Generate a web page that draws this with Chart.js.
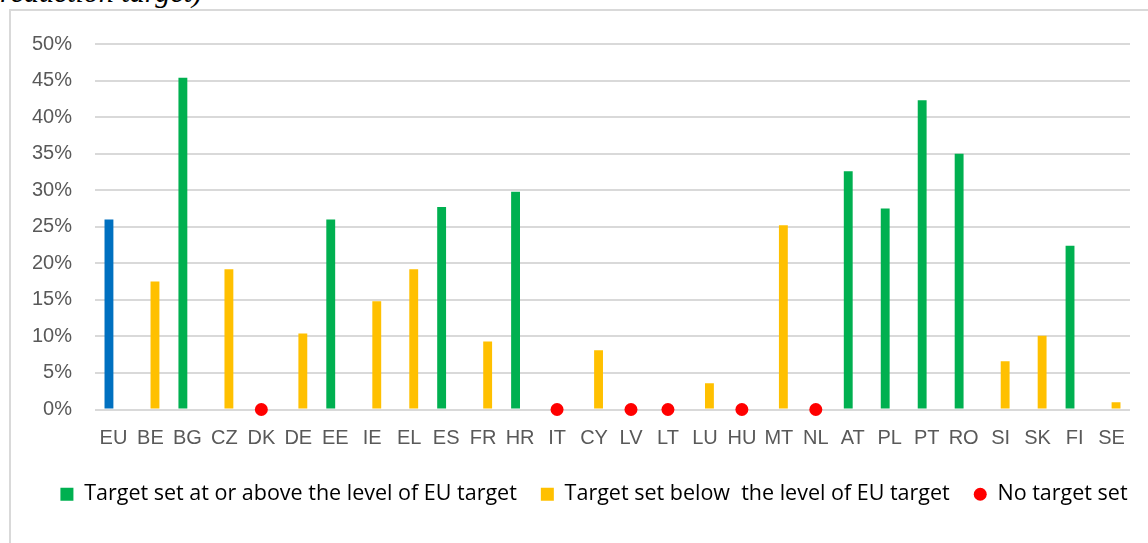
<!DOCTYPE html>
<html>
<head>
<meta charset="utf-8">
<script src="https://cdn.jsdelivr.net/npm/chart.js@4.4.1/dist/chart.umd.min.js"></script>
<style>
  body { margin: 0; background: #fff; }
  #wrap { position: relative; width: 1148px; height: 543px; overflow: hidden; }
  #frame { position: absolute; left: 9px; top: 9px; width: 1300px; height: 700px; border: 2px solid #d9d9d9; }
  #note { position: absolute; left: 0; top: -23px; font: italic 30px "Liberation Serif", serif; color: #000; line-height: 30px; white-space: nowrap; }
  #chartBox { position: absolute; left: 0; top: 0; width: 1148px; height: 543px; }
</style>
</head>
<body>
<div id="wrap">
  <div id="frame"></div>
  <div id="note">reduction target)</div>
  <div id="chartBox"><canvas id="targetChart"></canvas></div>
</div>
<script>
// countries on the x axis
const countries = ['EU', 'BE', 'BG', 'CZ', 'DK', 'DE', 'EE', 'IE', 'EL', 'ES', 'FR', 'HR', 'IT', 'CY',
  'LV', 'LT', 'LU', 'HU', 'MT', 'NL', 'AT', 'PL', 'PT', 'RO', 'SI', 'SK', 'FI', 'SE'];

// target at or above the EU level (EU itself drawn in blue)
const aboveTarget = [26.0, null, 45.4, null, null, null, 26.0, null, null, 27.7, null, 29.8, null, null,
  null, null, null, null, null, null, 32.6, 27.5, 42.3, 35.0, null, null, 22.4, null];

// target below the EU level
const belowTarget = [null, 17.5, null, 19.2, null, 10.4, null, 14.8, 19.2, null, 9.3, null, null, 8.1,
  null, null, 3.6, null, 25.2, null, null, null, null, null, 6.6, 10.1, null, 1.0];

// no target set (dot on the zero line)
const noTarget = [null, null, null, null, 0, null, null, null, null, null, null, null, 0, null,
  0, 0, null, 0, null, 0, null, null, null, null, null, null, null, null];

const legendNames = ['Target set at or above the level of EU target',
  'Target set below  the level of EU target', 'No target set'];

const yTicks = [0, 5, 10, 15, 20, 25, 30, 35, 40, 45, 50];

const green = '#00B050';
const yellow = '#FFC000';
const blue = '#0070C0';
const red = '#FF0000';
const textGrey = '#595959';

// the legend sits a bit right of centre in the original
const legendShift = {
  id: 'legendShift',
  afterLayout(chart) {
    chart.legend.left += 29;
    chart.legend.right += 29;
  }
};

const ctx = document.getElementById('targetChart');
new Chart(ctx, {
  type: 'bar',
  data: {
    labels: countries,
    datasets: [
      {
        label: legendNames[0],
        data: aboveTarget,
        backgroundColor: countries.map(c => c === 'EU' ? blue : green),
        categoryPercentage: 0.49,
        barPercentage: 0.98,
        order: 2
      },
      {
        label: legendNames[1],
        data: belowTarget,
        backgroundColor: yellow,
        categoryPercentage: 0.49,
        barPercentage: 0.98,
        order: 2
      },
      {
        type: 'line',
        label: legendNames[2],
        data: noTarget,
        showLine: false,
        pointRadius: 6.5,
        pointHoverRadius: 6.5,
        pointBackgroundColor: red,
        pointBorderWidth: 0,
        borderColor: red,
        clip: false,
        order: 1
      }
    ]
  },
  plugins: [legendShift],
  options: {
    responsive: true,
    maintainAspectRatio: false,
    animation: false,
    layout: { padding: { left: 0, right: 18, top: 44, bottom: 28 } },
    scales: {
      x: {
        grid: { display: false },
        border: { display: false },
        ticks: {
          color: textGrey,
          font: { family: 'Liberation Sans', size: 20 },
          autoSkip: false,
          maxRotation: 0,
          padding: 9
        },
        afterFit(scale) { scale.height = 50; }
      },
      y: {
        min: 0,
        max: 50,
        afterBuildTicks(scale) { scale.ticks = yTicks.map(v => ({ value: v })); },
        grid: { color: '#d9d9d9', lineWidth: 2, drawTicks: false },
        border: { display: false },
        ticks: {
          color: textGrey,
          font: { family: 'Liberation Sans', size: 20 },
          padding: 23,
          callback: v => v + '%'
        },
        afterFit(scale) { scale.width = 95; }
      }
    },
    plugins: {
      tooltip: { enabled: false },
      legend: {
        position: 'bottom',
        labels: {
          color: textGrey,
          font: { family: 'Open Sans', size: 21.5 },
          boxWidth: 13,
          boxHeight: 13,
          padding: 24,
          useBorderRadius: true,
          generateLabels() {
            return [
              { text: legendNames[0], fillStyle: green, strokeStyle: green, lineWidth: 0, borderRadius: 0, datasetIndex: 0 },
              { text: legendNames[1], fillStyle: yellow, strokeStyle: yellow, lineWidth: 0, borderRadius: 0, datasetIndex: 1 },
              { text: legendNames[2], fillStyle: red, strokeStyle: red, lineWidth: 0, borderRadius: 6.5, datasetIndex: 2 }
            ];
          }
        }
      }
    }
  }
});
</script>
</body>
</html>
